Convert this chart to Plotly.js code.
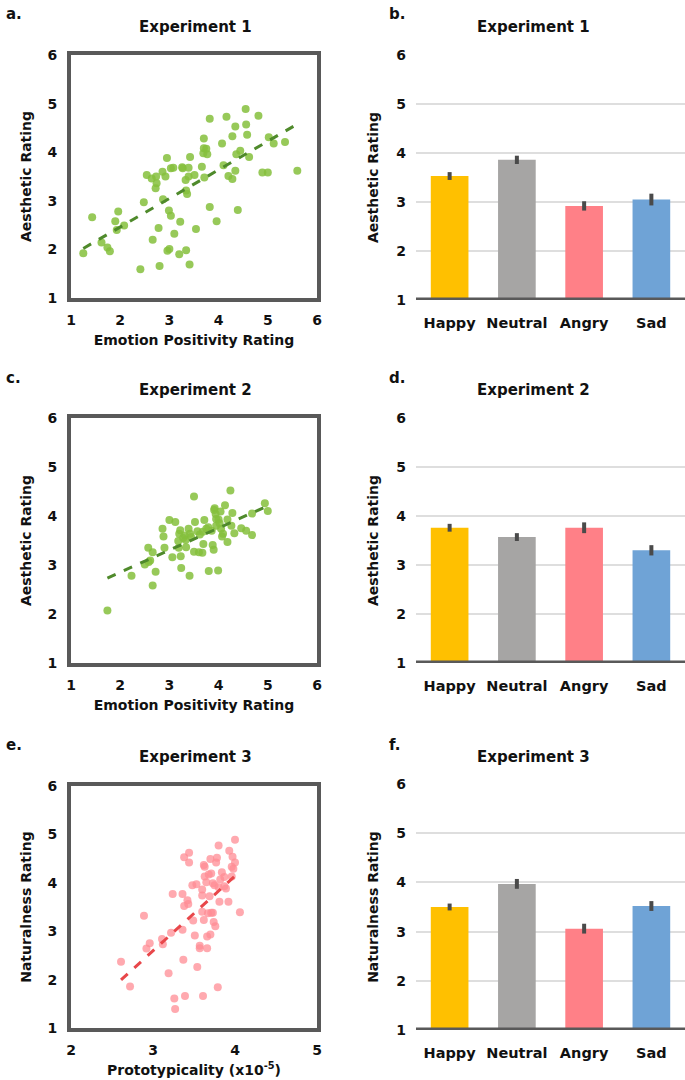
<!DOCTYPE html>
<html>
<head>
<meta charset="utf-8">
<script src="https://cdn.plot.ly/plotly-3.0.1.min.js"></script>
<style>html,body{margin:0;padding:0;background:#fff;}#chart{width:685px;height:1080px;}</style>
</head>
<body>
<div id="chart"></div>
<script>
// ---- Data ----
var exp1X = [1.25,1.43,1.62,1.74,1.79,1.90,1.93,1.96,2.08,2.41,2.48,2.54,2.64,2.73,2.74,2.72,2.66,2.78,2.80,2.86,2.92,2.87,2.95,2.99,3.03,3.03,3.10,2.96,3.00,3.08,3.22,3.20,3.26,3.27,3.34,3.33,3.36,3.34,3.41,3.39,3.42,3.39,3.51,3.54,3.66,3.70,3.70,3.69,3.75,3.77,3.71,3.82,3.82,3.96,4.07,4.10,4.16,4.20,4.28,4.28,4.34,4.34,4.36,4.39,4.44,4.55,4.56,4.58,4.62,4.81,4.89,5.00,5.02,5.12,5.35,5.60];
var exp1Y = [1.92,2.66,2.14,2.04,1.96,2.58,2.40,2.78,2.49,1.59,2.97,3.53,3.46,3.50,3.36,3.26,2.20,2.44,1.66,3.60,3.50,3.03,3.88,2.80,2.69,3.67,2.32,1.97,2.01,3.68,2.57,1.90,3.69,3.67,3.21,3.43,3.14,1.98,1.69,3.68,3.90,3.50,3.53,2.42,3.70,4.28,4.08,3.98,4.07,3.96,3.48,4.69,2.87,2.58,4.18,3.73,4.73,3.51,4.33,3.45,4.53,3.62,3.96,2.81,4.03,4.89,4.57,4.36,3.90,4.75,3.58,3.58,4.31,4.18,4.21,3.62];

var exp2X = [1.74,2.23,2.66,2.72,2.50,2.58,2.61,2.57,2.66,2.86,2.88,2.90,3.00,3.12,3.06,3.23,3.24,3.41,3.19,3.18,3.20,3.22,3.31,3.34,3.33,3.39,3.42,3.44,3.50,3.52,3.50,3.57,3.60,3.67,3.68,3.69,3.71,3.75,3.79,3.80,3.88,3.90,3.91,3.92,3.94,3.95,3.95,3.99,4.00,4.04,4.05,4.07,4.09,4.13,4.18,4.18,4.24,4.26,4.28,4.32,4.46,4.56,4.68,4.68,4.94,5.00,3.86,3.62,4.02,3.28];
var exp2Y = [2.07,2.78,2.58,2.86,3.01,3.06,3.09,3.35,3.26,3.74,3.58,3.35,3.92,3.88,3.16,3.18,2.94,2.78,3.35,3.49,3.64,3.71,3.60,3.36,3.51,3.74,3.64,3.57,4.40,3.88,3.27,3.69,3.26,3.25,3.68,3.43,3.92,3.74,3.77,2.88,3.41,3.31,4.12,4.16,4.04,3.94,3.80,2.89,3.93,4.09,3.74,3.58,3.64,4.22,3.93,3.47,4.52,3.80,4.06,3.65,3.75,3.70,3.61,4.05,4.26,4.10,3.70,3.62,3.85,3.55];

var exp3X = [2.61,2.72,2.89,2.92,2.96,3.11,3.12,3.22,3.19,3.26,3.27,3.39,3.24,3.36,3.36,3.37,3.38,3.44,3.44,3.38,3.42,3.43,3.48,3.49,3.51,3.53,3.54,3.57,3.57,3.60,3.60,3.60,3.61,3.62,3.62,3.63,3.63,3.65,3.66,3.66,3.67,3.68,3.69,3.70,3.70,3.71,3.71,3.73,3.73,3.74,3.75,3.76,3.77,3.78,3.79,3.80,3.80,3.81,3.82,3.84,3.87,3.87,3.89,3.92,3.93,3.96,3.96,3.97,3.98,4.00,4.00,4.06];
var exp3Y = [2.37,1.86,3.32,2.64,2.75,2.84,2.73,2.97,2.13,1.61,1.39,1.66,3.77,3.77,3.03,2.41,4.53,4.62,4.42,3.52,3.64,3.56,3.95,3.22,2.91,3.97,2.26,2.70,2.65,3.40,3.86,3.74,1.66,3.23,4.37,4.33,4.13,4.01,2.89,2.65,3.37,4.17,3.72,4.49,2.93,4.19,3.38,3.99,3.38,3.19,3.95,3.10,4.42,4.52,1.84,3.91,4.77,3.61,4.07,4.22,4.12,3.93,3.88,3.61,4.66,4.13,4.33,4.54,4.29,4.42,4.89,3.39];

var emotions = ["Happy","Neutral","Angry","Sad"];
var exp1Means = [3.53,3.86,2.92,3.05];
var exp1Errs  = [0.08,0.085,0.095,0.12];
var exp2Means = [3.76,3.57,3.76,3.30];
var exp2Errs  = [0.08,0.08,0.11,0.105];
var exp3Means = [3.50,3.97,3.06,3.52];
var exp3Errs  = [0.07,0.10,0.10,0.10];
var barColors = ["#FFC000","#A6A5A4","#FF8087","#6FA3D6"];

// ---- helpers ----
function fit(xs, ys){
  var n=xs.length,sx=0,sy=0,sxx=0,sxy=0;
  for(var i=0;i<n;i++){sx+=xs[i];sy+=ys[i];sxx+=xs[i]*xs[i];sxy+=xs[i]*ys[i];}
  var b=(n*sxy-sx*sy)/(n*sxx-sx*sx), a=(sy-b*sx)/n;
  var x0=Math.min.apply(null,xs), x1=Math.max.apply(null,xs);
  return {x:[x0,x1], y:[a+b*x0,a+b*x1]};
}
var FONT = "DejaVu Sans, Arial, sans-serif";
var W=685, H=1080;
function px(x){return x/W;}
function py(y){return 1-y/H;}

var green="rgba(133,191,60,0.85)", pink="rgba(255,140,148,0.75)";
var traces=[];
function scatter(xs,ys,col,lineCol,xa,ya){
  traces.push({type:'scatter',mode:'markers',x:xs,y:ys,xaxis:xa,yaxis:ya,
    marker:{color:col,size:8},hoverinfo:'skip',showlegend:false});
  var f=fit(xs,ys);
  traces.push({type:'scatter',mode:'lines',x:f.x,y:f.y,xaxis:xa,yaxis:ya,
    line:{color:lineCol,width:3,dash:'dash'},hoverinfo:'skip',showlegend:false});
}
function bars(means,errs,xa,ya){
  traces.push({type:'bar',x:emotions,y:means,xaxis:xa,yaxis:ya,
    marker:{color:barColors},width:0.56,
    error_y:{type:'data',array:errs,visible:true,width:0,thickness:4,color:'#4a4a4a'},
    hoverinfo:'skip',showlegend:false});
}
scatter(exp1X,exp1Y,green,"#4F8A2B",'x','y');
bars(exp1Means,exp1Errs,'x2','y2');
scatter(exp2X,exp2Y,green,"#4F8A2B",'x3','y3');
bars(exp2Means,exp2Errs,'x4','y4');
scatter(exp3X,exp3Y,pink,"#E8474A",'x5','y5');
bars(exp3Means,exp3Errs,'x6','y6');

var tickF={family:FONT,size:14,color:'#111',weight:'bold'};
var titleF={family:FONT,size:14,color:'#111',weight:'bold'};

function sxAxis(dom, range, anchor, title){
  return {domain:dom,range:range,anchor:anchor,dtick:1,showgrid:false,zeroline:false,
    showline:true,mirror:true,linewidth:4,linecolor:'#595959',ticks:'',tickfont:tickF,
    ticklabelstandoff:6,
    title:{text:title,font:titleF,standoff:9},fixedrange:true};
}
function syAxis(dom, anchor, title){
  return {domain:dom,range:[1,6],anchor:anchor,dtick:1,showgrid:false,zeroline:false,
    showline:true,mirror:true,linewidth:4,linecolor:'#595959',ticks:'',tickfont:tickF,
    ticklabelstandoff:7,
    title:{text:title,font:titleF,standoff:14},fixedrange:true};
}
function bxAxis(anchor){
  return {domain:[px(416),1],anchor:anchor,showgrid:false,zeroline:false,showline:false,
    ticks:'',tickfont:{family:FONT,size:14.5,color:'#111',weight:'bold'},ticklabelstandoff:12,fixedrange:true};
}
function byAxis(dom, anchor, title){
  return {domain:dom,range:[1,6],anchor:anchor,dtick:1,showgrid:true,gridcolor:'#dedede',gridwidth:2,
    zeroline:false,showline:false,ticks:'',tickfont:tickF,ticklabelstandoff:9,
    title:{text:title,font:titleF,standoff:14},fixedrange:true};
}

var sxDom=[px(71),px(317)];
var domA=[py(298),py(55)], domC=[py(663),py(418)], domE=[py(1028),py(786)];
var domB=[py(300),py(55)], domD=[py(663),py(418)], domF=[py(1030),py(784)];

var annotations=[];
function ann(text,x,y,size,anchor){
  annotations.push({text:text,xref:'paper',yref:'paper',x:px(x),y:py(y),showarrow:false,
    xanchor:anchor||'center',yanchor:'middle',font:{family:FONT,size:size,color:'#111',weight:'bold'}});
}
ann('a.',4,14,15,'left'); ann('b.',387,14,15,'left');
ann('c.',4,378,15,'left'); ann('d.',387,378,15,'left');
ann('e.',4,745,15,'left'); ann('f.',387,745,15,'left');
ann('Experiment 1',195,27,15); ann('Experiment 1',533,27,15);
ann('Experiment 2',195,390,15); ann('Experiment 2',533,390,15);
ann('Experiment 3',195,757,15); ann('Experiment 3',533,757,15);

// bottom thick axis lines for bar charts
var shapes=[];
[['x2','y2'],['x4','y4'],['x6','y6']].forEach(function(p){
  shapes.push({type:'line',xref:p[0]+' domain',yref:p[1],x0:0,x1:1,y0:1,y1:1,line:{color:'#595959',width:5}});
});

var layout={
  width:W,height:H,margin:{l:0,r:0,t:0,b:0},paper_bgcolor:'#fff',plot_bgcolor:'#fff',
  showlegend:false,bargap:0.44,font:{family:FONT},
  xaxis:sxAxis(sxDom,[1,6],'y','Emotion Positivity Rating'),
  yaxis:syAxis(domA,'x','Aesthetic Rating'),
  xaxis2:bxAxis('y2'), yaxis2:byAxis(domB,'x2','Aesthetic Rating'),
  xaxis3:sxAxis(sxDom,[1,6],'y3','Emotion Positivity Rating'),
  yaxis3:syAxis(domC,'x3','Aesthetic Rating'),
  xaxis4:bxAxis('y4'), yaxis4:byAxis(domD,'x4','Aesthetic Rating'),
  xaxis5:sxAxis(sxDom,[2,5],'y5','Prototypicality (x10<sup>-5</sup>)'),
  yaxis5:syAxis(domE,'x5','Naturalness Rating'),
  xaxis6:bxAxis('y6'), yaxis6:byAxis(domF,'x6','Naturalness Rating'),
  annotations:annotations, shapes:shapes
};
Plotly.newPlot('chart',traces,layout,{staticPlot:true,displayModeBar:false});
</script>
</body>
</html>
